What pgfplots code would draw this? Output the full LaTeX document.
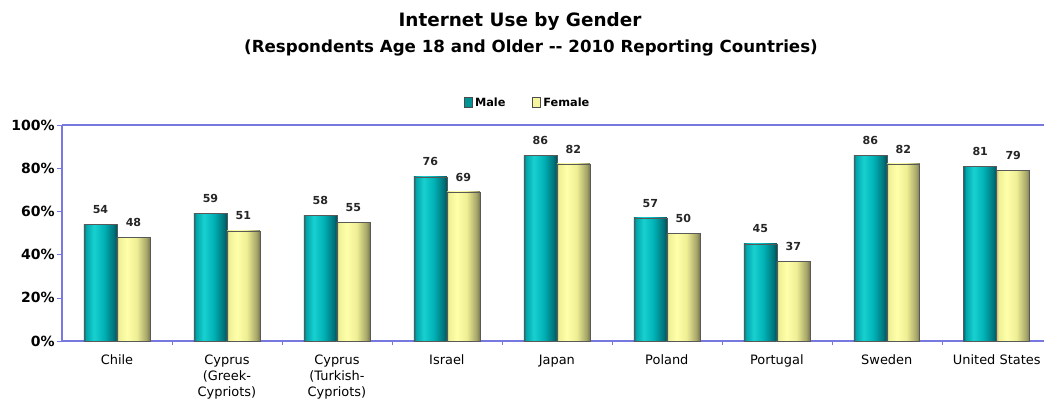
\documentclass[border=0pt]{standalone}
\usepackage{pgfplots}
\pgfplotsset{compat=1.18}
\usepackage{fontspec}
\setmainfont{DejaVu Sans}

\definecolor{axisblue}{RGB}{120,120,225}

% cylinder-like shadings; the path spans 25bp (left edge) to 75bp (right edge)
\pgfdeclarehorizontalshading{maleshade}{100bp}{%
  color(0bp)=(rgb,255:red,0;green,110;blue,115);
  color(25bp)=(rgb,255:red,0;green,110;blue,115);
  color(28bp)=(rgb,255:red,0;green,165;blue,170);
  color(40bp)=(rgb,255:red,25;green,208;blue,208);
  color(55bp)=(rgb,255:red,0;green,178;blue,182);
  color(70bp)=(rgb,255:red,0;green,115;blue,122);
  color(75bp)=(rgb,255:red,0;green,80;blue,90);
  color(100bp)=(rgb,255:red,0;green,80;blue,90)}
\pgfdeclarehorizontalshading{femaleshade}{100bp}{%
  color(0bp)=(rgb,255:red,195;green,195;blue,125);
  color(25bp)=(rgb,255:red,195;green,195;blue,125);
  color(28bp)=(rgb,255:red,240;green,240;blue,150);
  color(40bp)=(rgb,255:red,255;green,255;blue,170);
  color(55bp)=(rgb,255:red,238;green,238;blue,148);
  color(70bp)=(rgb,255:red,165;green,165;blue,105);
  color(75bp)=(rgb,255:red,120;green,120;blue,80);
  color(100bp)=(rgb,255:red,120;green,120;blue,80)}

\pgfplotsset{
  male/.style={/tikz/shade, /tikz/shading=maleshade, bar shift=-0.15},
  female/.style={/tikz/shade, /tikz/shading=femaleshade, bar shift=0.15},
}
% one plot per bar, so that each bar gets its own cylinder shading
\newcommand{\malebar}[2]{\addplot[male, forget plot] coordinates {(#1,#2)};}
\newcommand{\femalebar}[2]{\addplot[female, forget plot] coordinates {(#1,#2)};}

\begin{document}
\begin{tikzpicture}[x=1pt,y=1pt]
\begin{axis}[
  name=ax,
  at={(0pt,0pt)}, anchor=south west,
  scale only axis,
  width=736.5pt, height=162pt,
  ybar, bar width=0.3,
  xmin=-0.5, xmax=8.43,
  ymin=0, ymax=100,
  ytick={0,20,...,100},
  yticklabel={\pgfmathprintnumber{\tick}\%},
  /pgf/number format/assume math mode=true,
  yticklabel style={font=\fontsize{10.5}{12}\selectfont\bfseries, xshift=2pt},
  xtick={0,...,8},
  xticklabels={Chile,{Cyprus\\(Greek-\\Cypriots)},{Cyprus\\(Turkish-\\Cypriots)},Israel,Japan,Poland,Portugal,Sweden,United States},
  xticklabel style={font=\fontsize{9.7}{12}\selectfont, align=center, anchor=north, yshift=-3pt},
  major x tick style={draw=none},
  minor xtick={0.5,1.5,...,7.5},
  minor x tick style={draw=axisblue},
  axis x line*=bottom, axis y line*=left,
  axis line style={draw=axisblue, line width=0.8pt, -},
  tick style={draw=axisblue},
  tick align=outside,
  major tick length=4pt, minor tick length=3pt,
  every axis plot/.append style={draw=black!65, line width=0.4pt},
  nodes near coords,
  nodes near coords style={font=\fontsize{8.3}{10}\selectfont\bfseries, color=black!85, yshift=4.5pt},
  legend columns=2,
  legend style={at={(0.4745,1.102)}, anchor=center, draw=none, fill=none,
    font=\fontsize{8.5}{10}\selectfont\bfseries,
    /tikz/every even column/.append style={column sep=18pt}},
  legend image code/.code={\draw[#1] (0pt,-3pt) rectangle (6pt,4pt);},
  clip=false,
]
\addlegendimage{fill=black!5!teal!80!cyan, draw=black!70}
\addlegendentry{Male}
\addlegendimage{fill={rgb,255:red,245;green,245;blue,160}, draw=black!70}
\addlegendentry{Female}

% Male
\malebar{0}{54} \malebar{1}{59} \malebar{2}{58} \malebar{3}{76} \malebar{4}{86}
\malebar{5}{57} \malebar{6}{45} \malebar{7}{86} \malebar{8}{81}
% Female
\femalebar{0}{48} \femalebar{1}{51} \femalebar{2}{55} \femalebar{3}{69} \femalebar{4}{82}
\femalebar{5}{50} \femalebar{6}{37} \femalebar{7}{82} \femalebar{8}{79}

\draw[axisblue, line width=0.8pt] (rel axis cs:0,1) -- (rel axis cs:1,1);
\end{axis}
\node[font=\fontsize{13.8}{16}\selectfont\bfseries] at (343.5pt,239.5pt) {Internet Use by Gender};
\node[font=\fontsize{12.5}{14}\selectfont\bfseries] at (351.75pt,220pt) {(Respondents Age 18 and Older {-}{-} 2010 Reporting Countries)};
\pgfresetboundingbox
\path[use as bounding box] (-46.5pt,-45pt) rectangle (736.5pt,255.75pt);
\end{tikzpicture}
\end{document}
